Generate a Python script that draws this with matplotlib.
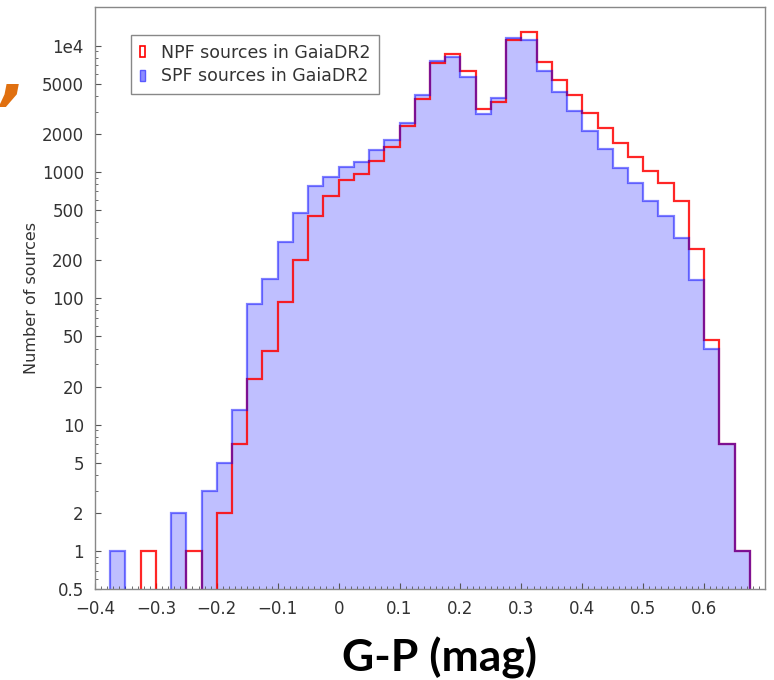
import numpy as np
import matplotlib
matplotlib.use("Agg")
import matplotlib.pyplot as plt
from matplotlib.patches import Patch
from matplotlib.ticker import FixedLocator, MultipleLocator, LogLocator, NullFormatter

# bin edges of G-P colour (width 0.025 mag)
edges = np.round(np.arange(-0.375, 0.6751, 0.025), 4)
centers = (edges[:-1] + edges[1:]) / 2

# counts per bin
npf = [0, 0, 1, 0, 0, 1, 0, 2, 7,
       23, 38, 93, 200, 445, 650, 855, 955, 1230, 1570,
       2290, 3770, 7300, 8600, 6270, 3160, 3560, 11100, 12800, 7380,
       5290, 4030, 2920, 2240, 1690, 1310, 1015, 820, 585, 247,
       47, 7, 1]
spf = [1, 0, 0, 0, 2, 0, 3, 5, 13,
       90, 143, 280, 470, 780, 910, 1100, 1190, 1500, 1800,
       2430, 4030, 7480, 8090, 5620, 2880, 3830, 11400, 11100, 6340,
       4280, 3010, 2100, 1510, 1080, 820, 585, 445, 300, 139,
       40, 7, 1]

yticks = [0.5, 1, 2, 5, 10, 20, 50, 100, 200, 500, 1000, 2000, 5000, 1e4]
ytick_labels = ["0.5", "1", "2", "5", "10", "20", "50", "100", "200", "500",
                "1000", "2000", "5000", "1e4"]
xticks = [-0.4, -0.3, -0.2, -0.1, 0, 0.1, 0.2, 0.3, 0.4, 0.5, 0.6]
xtick_labels = ["\u22120.4", "\u22120.3", "\u22120.2", "\u22120.1", "0",
                "0.1", "0.2", "0.3", "0.4", "0.5", "0.6"]

fig = plt.figure(figsize=(7.74, 6.8), dpi=100)
ax = fig.add_axes([0.1227, 0.1338, 0.8657, 0.8552])
ax.set_yscale("log")

fill_col = (0.0, 0.0, 1.0, 0.25)
ax.hist(centers, bins=edges, weights=spf, histtype="stepfilled",
        facecolor=fill_col, edgecolor="none")
ax.hist(centers, bins=edges, weights=npf, histtype="step",
        color="red", alpha=0.85, linewidth=1.6)
ax.hist(centers, bins=edges, weights=spf, histtype="step",
        color="blue", alpha=0.5, linewidth=1.6)

ax.set_xlim(-0.4, 0.7)
ax.set_ylim(0.5, 2e4)

ax.yaxis.set_major_locator(FixedLocator(yticks))
ax.set_yticklabels(ytick_labels)
ax.yaxis.set_minor_locator(LogLocator(base=10, subs=np.arange(1, 10) * 1.0, numticks=50))
ax.yaxis.set_minor_formatter(NullFormatter())
ax.xaxis.set_major_locator(FixedLocator(xticks))
ax.set_xticklabels(xtick_labels)
ax.xaxis.set_minor_locator(MultipleLocator(0.01))

ax.tick_params(which="both", direction="in", colors="#555555",
               labelcolor="#333333", labelsize=12)
ax.tick_params(which="major", length=4, width=0.8)
ax.tick_params(which="minor", length=2, width=0.6)
ax.tick_params(axis="x", pad=8)
ax.tick_params(axis="y", pad=8)
for sp in ax.spines.values():
    sp.set_color("#888888")
    sp.set_linewidth(1.0)

ax.set_ylabel("Number of sources", fontsize=11.5, color="#333333", labelpad=2)

handles = [Patch(facecolor="none", edgecolor="red", linewidth=1.2),
           Patch(facecolor=(0.55, 0.55, 1.0), edgecolor=(0.35, 0.35, 1.0), linewidth=1.0)]
leg = ax.legend(handles, ["NPF sources in GaiaDR2", "SPF sources in GaiaDR2"],
                loc="upper left", bbox_to_anchor=(0.054, 0.952),
                fontsize=12.5, handlelength=0.3, handleheight=0.6,
                handletextpad=0.9, borderpad=0.5, labelspacing=0.3,
                borderaxespad=0, fancybox=False, framealpha=1,
                edgecolor="#888888")
for t in leg.get_texts():
    t.set_color("#333333")

fig.text(0.568, 0.032, "G-P (mag)", fontsize=32, fontweight="bold",
         family="Lato", ha="center", va="center", color="black")
fig.text(0.0, 0.858, ",", fontsize=50, fontweight="bold", style="italic",
         color="#e07010", ha="left", va="baseline")

fig.savefig("out.png", dpi=100)
